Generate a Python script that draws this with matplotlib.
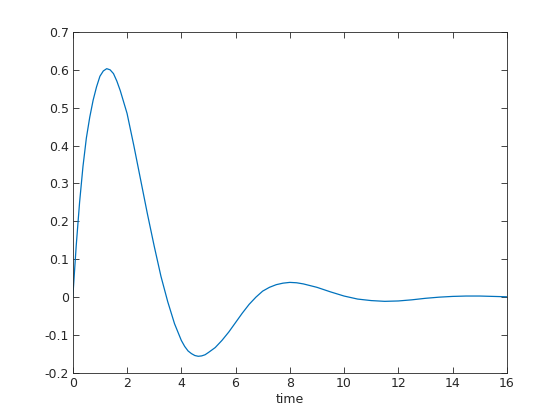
import matplotlib; matplotlib.use('Agg')
import matplotlib.pyplot as plt

# values
t = [0, 0.125, 0.25, 0.375, 0.5, 0.625, 0.75, 0.875, 1.0, 1.125, 1.25, 1.375, 1.5, 1.625, 1.75,
     2.0, 2.25, 2.5, 2.75, 3.0, 3.25, 3.5, 3.75, 4.0, 4.125, 4.25, 4.375, 4.5, 4.625, 4.75,
     4.875, 5.0, 5.25, 5.5, 5.75, 6.0, 6.25, 6.5, 6.75, 7.0, 7.25, 7.5, 7.75, 8.0, 8.25,
     8.5, 9.0, 9.5, 10.0, 10.5, 11.0, 11.5, 12.0, 12.5, 13.0, 13.5, 14.0, 14.5, 15.0, 15.5, 16.0]
y = [0, 0.135, 0.25, 0.345, 0.42, 0.475, 0.52, 0.555, 0.583, 0.597, 0.603, 0.600, 0.59, 0.57, 0.545,
     0.485, 0.40, 0.31, 0.22, 0.135, 0.055, -0.012, -0.07, -0.114, -0.130, -0.142, -0.149, -0.154, -0.156, -0.155,
     -0.152, -0.146, -0.133, -0.114, -0.092, -0.067, -0.042, -0.019, 0.000, 0.016, 0.026, 0.033, 0.037, 0.039, 0.038,
     0.035, 0.026, 0.014, 0.003, -0.005, -0.009, -0.011, -0.010, -0.007, -0.003, 0.0, 0.002, 0.003, 0.003, 0.002, 0.001]

xticks = list(range(0, 17, 2))
yticks = [-0.2, -0.1, 0, 0.1, 0.2, 0.3, 0.4, 0.5, 0.6, 0.7]
ytick_labels = ['-0.2', '-0.1', '0', '0.1', '0.2', '0.3', '0.4', '0.5', '0.6', '0.7']

plt.rcParams['font.family'] = ['DejaVu Sans']
fig = plt.figure(figsize=[5.6, 4.2], dpi=100)
ax = fig.add_axes([0.13, 0.112, 0.775, 0.812])
ax.plot(t, y, color='#0072BD', lw=0.9)
ax.set_xlim(0, 16)
ax.set_ylim(-0.2, 0.7)
ax.set_xticks(xticks)
ax.set_xticklabels([str(v) for v in xticks])
ax.set_yticks(yticks)
ax.set_yticklabels(ytick_labels)
ax.set_xlabel('time', fontsize=9, color='#262626', labelpad=2)
ax.tick_params(direction='in', top=True, right=True, length=4, width=0.6,
               labelsize=9, colors='#262626', pad=3)
for s in ax.spines.values():
  s.set_linewidth(0.6)
  s.set_color('#262626')
fig.savefig('out.png', dpi=100)
